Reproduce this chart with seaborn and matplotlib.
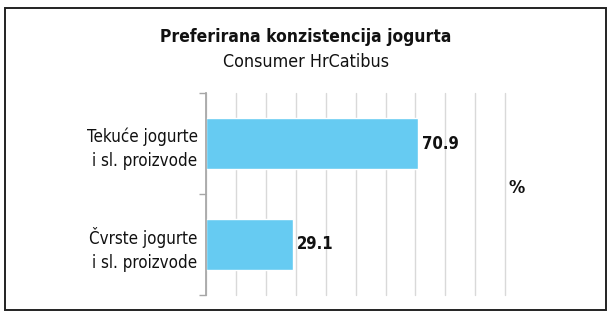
import matplotlib
matplotlib.use("Agg")
import matplotlib.pyplot as plt
from matplotlib.patches import Rectangle
import seaborn as sns
import pandas as pd

categories = ["Tekuće jogurte\ni sl. proizvode", "Čvrste jogurte\ni sl. proizvode"]
values = [70.9, 29.1]
title = "Preferirana konzistencija jogurta"
subtitle = "Consumer HrCatibus"
unit = "%"

sns.set_theme(style="white")
plt.rcParams["font.family"] = ["DejaVu Sans"]
plt.rcParams["font.stretch"] = "condensed"

df = pd.DataFrame({"cat": categories, "val": values})

fig = plt.figure(figsize=(6.11, 3.22), dpi=100)
fig.patch.set_facecolor("white")
fig.add_artist(Rectangle((0.008, 0.037), 0.984, 0.938, transform=fig.transFigure,
                         fill=False, edgecolor="#222222", linewidth=1.4))

ax = fig.add_axes([0.337, 0.084, 0.490, 0.627])
sns.barplot(data=df, y="cat", x="val", orient="h", color="#66CBF2",
            saturation=1, width=0.5, ax=ax)
ax.set_xlim(0, 100)
ax.set_ylim(1.5, -0.5)
ax.set_xticks(range(0, 101, 10))
ax.set_xticklabels([])
ax.tick_params(axis="x", length=0)
ax.grid(axis="x", color="#d9d9d9", linewidth=1)
for gl in ax.get_xgridlines():
    gl.set_clip_on(False)
ax.set_axisbelow(True)
for s in ["top", "right", "bottom"]:
    ax.spines[s].set_visible(False)
ax.spines["left"].set_color("#a6a6a6")
ax.set_xlabel("")
ax.set_ylabel("")
ax.set_yticks([-0.5, 0.5, 1.5], minor=True)
ax.tick_params(axis="y", which="major", length=0, pad=6, labelsize=12.2, labelcolor="#111111")
ax.tick_params(axis="y", which="minor", length=5, color="#a6a6a6", direction="out", left=True)
for lbl in ax.get_yticklabels():
    lbl.set_horizontalalignment("right")
    lbl.set_linespacing(1.45)

for i, v in enumerate(values):
    ax.text(v + 1.2, i, f"{v:.1f}", va="center", ha="left", fontsize=12,
            fontweight="bold", color="#111111")

fig.text(0.846, 0.415, unit, fontsize=13, fontweight="bold", ha="center", va="center", color="#111111")
fig.text(0.501, 0.885, title, fontsize=12.5, fontweight="bold", ha="center", va="center", color="#111111")
fig.text(0.501, 0.807, subtitle, fontsize=12.8, ha="center", va="center", color="#111111")

fig.savefig("out.png", dpi=100)
